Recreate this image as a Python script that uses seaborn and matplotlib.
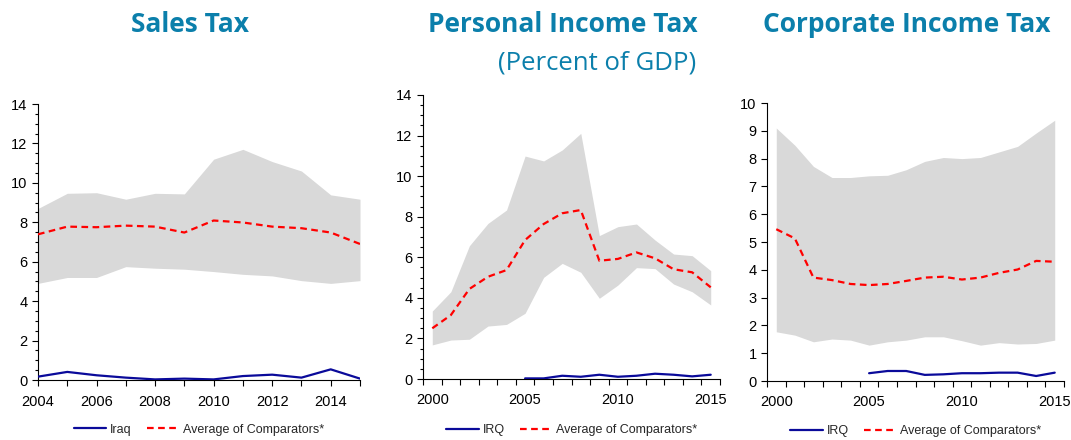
import numpy as np
import pandas as pd
import matplotlib
matplotlib.use("Agg")
import matplotlib.pyplot as plt
import seaborn as sns
from matplotlib.ticker import MultipleLocator, FixedLocator

# Sales tax, 2004-2015
sales_years = list(range(2004, 2016))
sales_upper = [8.7, 9.47, 9.5, 9.17, 9.47, 9.44, 11.2, 11.7, 11.08, 10.6, 9.39, 9.17]
sales_lower = [4.9, 5.2, 5.2, 5.75, 5.67, 5.62, 5.5, 5.36, 5.28, 5.04, 4.9, 5.04]
sales_avg = [7.39, 7.78, 7.75, 7.83, 7.78, 7.48, 8.09, 7.99, 7.78, 7.7, 7.48, 6.9]
sales_iraq = [0.17, 0.41, 0.24, 0.12, 0.03, 0.07, 0.03, 0.2, 0.27, 0.12, 0.54, 0.07]

# Personal income tax, 2000-2015 (IRQ from 2005)
pit_years = list(range(2000, 2016))
pit_upper = [3.35, 4.3, 6.57, 7.67, 8.33, 10.99, 10.75, 11.29, 12.11, 7.07, 7.51, 7.64,
             6.85, 6.16, 6.08, 5.34]
pit_lower = [1.68, 1.92, 1.96, 2.61, 2.69, 3.24, 5.01, 5.7, 5.26, 3.98, 4.63, 5.49,
             5.44, 4.68, 4.3, 3.65]
pit_avg = [2.5, 3.15, 4.44, 5.04, 5.37, 6.85, 7.64, 8.17, 8.33, 5.83, 5.92, 6.24,
           5.95, 5.41, 5.26, 4.52]
pit_irq_years = list(range(2005, 2016))
pit_irq = [0.03, 0.03, 0.16, 0.11, 0.21, 0.11, 0.16, 0.26, 0.21, 0.13, 0.21]

# Corporate income tax, 2000-2015 (IRQ from 2005)
cit_years = list(range(2000, 2016))
cit_upper = [9.1, 8.48, 7.72, 7.32, 7.32, 7.38, 7.4, 7.6, 7.9, 8.04, 8.0, 8.04,
             8.24, 8.44, 8.92, 9.38]
cit_lower = [1.77, 1.65, 1.41, 1.51, 1.47, 1.29, 1.41, 1.47, 1.59, 1.59, 1.45, 1.29,
             1.38, 1.33, 1.35, 1.47]
cit_avg = [5.46, 5.13, 3.72, 3.63, 3.49, 3.45, 3.49, 3.6, 3.72, 3.75, 3.65, 3.72,
           3.89, 4.01, 4.32, 4.29]
cit_irq_years = list(range(2005, 2016))
cit_irq = [0.28, 0.36, 0.36, 0.22, 0.24, 0.28, 0.28, 0.3, 0.3, 0.18, 0.3]

titles = ["Sales Tax", "Personal Income Tax", "Corporate Income Tax"]
subtitle = "(Percent of GDP)"
country_labels = ["Iraq", "IRQ", "IRQ"]
avg_label = "Average of Comparators*"

TEAL = "#0b7fab"
NAVY = "#0a0a9a"
RED = "#ff0000"
BAND = "#d9d9d9"

sns.set_style("white")
plt.rcParams["font.family"] = ["Liberation Sans Narrow", "Liberation Sans", "DejaVu Sans"]

fig = plt.figure(figsize=(10.71, 4.4), dpi=100)
W, H = 1071, 440


def add_axes(left, right, top, bottom):
    return fig.add_axes([left / W, 1 - bottom / H, (right - left) / W, (bottom - top) / H])


ax1 = add_axes(38, 360, 104, 380)
ax2 = add_axes(423, 720, 95, 379)
ax3 = add_axes(767, 1064, 103, 381)

panels = [
    (ax1, sales_years, sales_upper, sales_lower, sales_avg, sales_years, sales_iraq),
    (ax2, pit_years, pit_upper, pit_lower, pit_avg, pit_irq_years, pit_irq),
    (ax3, cit_years, cit_upper, cit_lower, cit_avg, cit_irq_years, cit_irq),
]

for i, (ax, yrs, up, lo, avg, cyrs, cval) in enumerate(panels):
    ax.fill_between(yrs, lo, up, color=BAND, lw=0, zorder=1)
    ctry = pd.DataFrame({"year": cyrs, "value": cval})
    comp = pd.DataFrame({"year": yrs, "value": avg})
    sns.lineplot(data=ctry, x="year", y="value", ax=ax, color=NAVY, lw=1.6,
                 label=country_labels[i], zorder=3)
    sns.lineplot(data=comp, x="year", y="value", ax=ax, color=RED, lw=1.6,
                 linestyle=(0, (3, 2)), label=avg_label, zorder=3)
    ax.set_xlabel("")
    ax.set_ylabel("")
    for s in ["top", "right"]:
        ax.spines[s].set_visible(False)
    for s in ["left", "bottom"]:
        ax.spines[s].set_color("black")
        ax.spines[s].set_linewidth(0.8)
    ax.tick_params(axis="both", which="both", direction="out", colors="black",
                   labelsize=10.5, width=0.8, bottom=True, left=True)
    ax.tick_params(axis="both", which="major", length=4)
    ax.tick_params(axis="both", which="minor", length=2.5)
    ax.tick_params(axis="x", which="major", pad=7)
    ax.legend(loc="center", bbox_to_anchor=(0.5, -0.18), ncol=2,
              frameon=False, fontsize=9, handlelength=2.6, columnspacing=1.2,
              handletextpad=0.3, borderpad=0.1)

# Sales tax axis
ax1.set_xlim(2004, 2015)
ax1.set_ylim(0, 14)
ax1.xaxis.set_major_locator(MultipleLocator(2))
ax1.xaxis.set_minor_locator(MultipleLocator(1))
ax1.tick_params(axis="x", which="minor", length=4)
ax1.yaxis.set_major_locator(MultipleLocator(2))
ax1.yaxis.set_minor_locator(MultipleLocator(0.5))

# Personal / corporate income tax: category style x axis
for ax, ymax in [(ax2, 14), (ax3, 10)]:
    ax.set_xlim(1999.5, 2015.5)
    ax.set_ylim(0, ymax)
    ax.xaxis.set_major_locator(FixedLocator([2000, 2005, 2010, 2015]))
    ax.xaxis.set_minor_locator(FixedLocator(np.arange(1999.5, 2016, 1.0)))
    ax.tick_params(axis="x", which="major", length=0, pad=10)
    ax.tick_params(axis="x", which="minor", length=4)
ax2.yaxis.set_major_locator(MultipleLocator(2))
ax2.yaxis.set_minor_locator(MultipleLocator(0.5))
ax3.yaxis.set_major_locator(MultipleLocator(1))

# Titles
title_font = ["Open Sans", "DejaVu Sans"]
for x, t in zip([190, 563, 907], titles):
    fig.text(x / W, 1 - 25 / H, t, ha="center", va="center", color=TEAL,
             fontsize=19, fontweight="bold", family=title_font)
fig.text(597 / W, 1 - 63 / H, subtitle, ha="center", va="center", color=TEAL,
         fontsize=18.5, family=title_font)

fig.savefig("out.png", dpi=100)
